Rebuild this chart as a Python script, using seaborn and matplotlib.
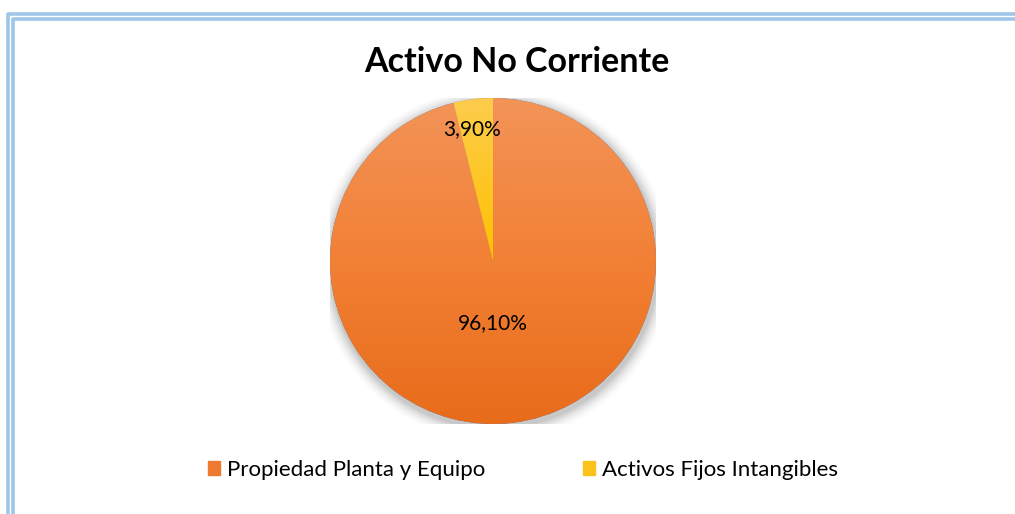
import numpy as np
import matplotlib
matplotlib.use('Agg')
import matplotlib.pyplot as plt
import seaborn as sns
from matplotlib.colors import LinearSegmentedColormap
from matplotlib.patches import Circle, Rectangle

sns.set_theme(style='white')
plt.rcParams['font.family'] = ['Lato', 'DejaVu Sans']
plt.rcParams['text.color'] = 'black'

# Data
categories = ['Propiedad Planta y Equipo', 'Activos Fijos Intangibles']
shares = [96.10, 3.90]
labels = ['96,10%', '3,90%']
title = 'Activo No Corriente'

# colours (top -> bottom of the gradient)
grad_colors = [('#f29458', '#f28035', '#e86c1a'), ('#fdcc4c', '#ffc000', '#e8ad00')]
legend_colors = ['#ee7a30', '#fcc21c']

W, H = 1015, 514
fig = plt.figure(figsize=(W / 100, H / 100), dpi=100)
fig.patch.set_facecolor('white')

# double light-blue frame on the top and left
frame = fig.add_axes([0, 0, 1, 1])
frame.set_xlim(0, W)
frame.set_ylim(H, 0)
frame.axis('off')
for off in (8, 13):
    frame.plot([off, off, W + 5], [H + 5, off + 6, off + 6], color='#9fc5e8', lw=2.6,
               solid_joinstyle='round', solid_capstyle='butt')

# pie axes: centre (493, 261), radius 163 px
cx, cy, r = 493, 261, 163
ax = fig.add_axes([(cx - r) / W, (H - cy - r) / H, 2 * r / W, 2 * r / H])

# soft shadow
for i, a in enumerate(np.linspace(0.05, 0.012, 7)):
    ax.add_patch(Circle((0.008, -0.02), 1.0 + 0.012 * (i + 1), color='black', alpha=a, lw=0, zorder=0))

wedges, _ = ax.pie(shares, startangle=90, counterclock=False, radius=1,
                   wedgeprops=dict(linewidth=0, clip_on=False))

grad = np.linspace(0, 1, 256).reshape(-1, 1)
for w, cols in zip(wedges, grad_colors):
    cmap = LinearSegmentedColormap.from_list('g', list(cols))
    im = ax.imshow(grad, cmap=cmap, extent=(-1, 1, -1, 1), origin='upper', aspect='auto', zorder=2)
    im.set_clip_path(w)

ax.text(0, -0.38, labels[0], ha='center', va='center', fontsize=15, color='black', zorder=5)
ax.text(-0.13, 0.81, labels[1], ha='center', va='center', fontsize=15, color='black', zorder=5)
ax.set_xlim(-1, 1)
ax.set_ylim(-1, 1)
ax.axis('off')

fig.text(517 / W, 1 - 62 / H, title, ha='center', va='center', fontsize=24.5,
         fontweight='bold', color='black')

handles = [Rectangle((0, 0), 1, 1, color=c) for c in legend_colors]
fig.legend(handles, categories, loc='center', bbox_to_anchor=(523 / W, 1 - 470 / H), ncol=2,
           frameon=False, fontsize=16, handlelength=0.55, handleheight=0.55, handletextpad=0.3,
           columnspacing=4.4, labelcolor='black')

fig.savefig('out.png', dpi=100)
